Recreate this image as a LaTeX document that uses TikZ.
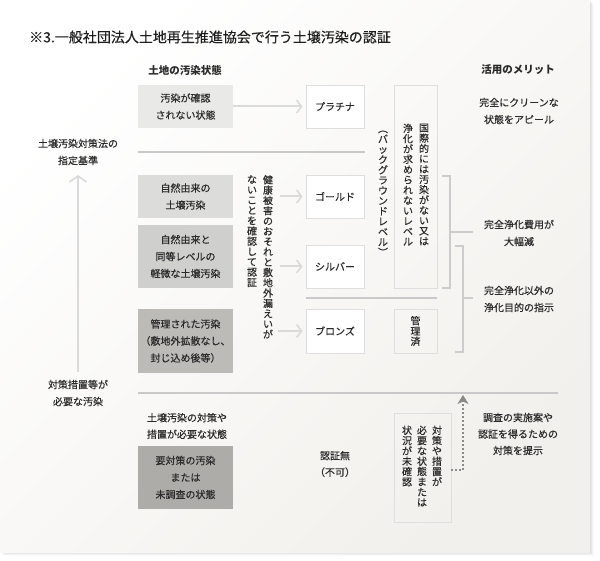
\documentclass[tikz,border=0pt]{standalone}
\usepackage{fontspec}
\setmainfont{Noto Sans CJK JP}[FakeBold=0.35]
\newfontfamily\hfont{Noto Sans CJK JP}
\usepackage{graphicx}
\usetikzlibrary{arrows.meta}
\definecolor{txt}{HTML}{2A2A2A}
\definecolor{ttl}{HTML}{1E1E1E}
\definecolor{bgB}{HTML}{F2F0EC}
\definecolor{sepc}{HTML}{C9C9C9}
\definecolor{arrc}{HTML}{DADADA}
\definecolor{brdc}{HTML}{DEDEDE}
\definecolor{brkc}{HTML}{CCCCCC}
\definecolor{dotc}{HTML}{8A8A8A}
\definecolor{fA}{HTML}{E9E9E8}
\definecolor{fB}{HTML}{DCDCDB}
\definecolor{fC}{HTML}{CFCFCE}
\definecolor{fD}{HTML}{BCBBB8}
\definecolor{fE}{HTML}{AEACA8}
\ExplSyntaxOn
\NewDocumentCommand\vt{m}{
  \vbox{\baselineskip=10.3pt \lineskiplimit=-20pt \lineskip=0pt
  \tl_map_inline:nn {#1} {\hbox to 10pt{\hss ##1\hss}}}
}
\ExplSyntaxOff
\newcommand\vpo{\rotatebox[origin=c]{-90}{（}}
\newcommand\vpc{\rotatebox[origin=c]{-90}{）}}
\begin{document}
\begin{tikzpicture}[x=1pt,y=-1pt,
  every node/.style={text=txt, font=\fontsize{10}{17}\selectfont, inner sep=0pt, align=center},
  gbox/.style={minimum width=95pt},
  wbox/.style={minimum width=58pt, minimum height=43pt, fill=white, draw=brdc, line width=0.8pt},
  vbx/.style={draw=brdc, line width=0.8pt},
  hdr/.style={font=\hfont\fontsize{10.5}{12}\selectfont\bfseries},
  arr/.style={draw=arrc, line width=2pt, -{Straight Barb[length=5pt,width=13pt,line width=1.6pt]}, shorten >=3pt},
  sepl/.style={draw=sepc, line width=2pt},
  brk/.style={draw=brkc, line width=1.3pt},
  dotarr/.style={draw=dotc, line width=1.3pt, dash pattern=on 1.3pt off 2.7pt, -{Stealth[length=9pt,width=11pt,inset=2.5pt]}}
]
\useasboundingbox (0,0) rectangle (600,561);
\fill[white] (0,0) rectangle (600,561);
% shadow and panel
\foreach \o/\op in {4/0.02,3/0.03,2/0.04,1/0.05}{
  \fill[black,opacity=\op] (\o,\o) rectangle (590+\o,552+\o);
}
\shade[top color=white, bottom color=bgB, shading angle=45] (0,0) rectangle (590,552);

% title & headers
\node[anchor=west, text=ttl, font=\fontsize{14}{16}\selectfont] (title) at (29,37) {※3.一般社団法人土地再生推進協会で行う土壌汚染の認証};
\node[hdr] (h1) at (185,70) {土地の汚染状態};
\node[hdr] (h2) at (518,70) {活用のメリット};

% left column boxes
\node[gbox, fill=fA, minimum height=43pt] (b1) at (185.5,106.5) {汚染が確認\\されない状態};
\node[gbox, fill=fB, minimum height=43pt] (b2) at (185.5,196.5) {自然由来の\\土壌汚染};
\node[gbox, fill=fC, minimum height=63pt] (b3) at (185.5,256.5) {自然由来と\\同等レベルの\\軽微な土壌汚染};
\node[gbox, fill=fD, minimum height=64pt] (b4) at (185.5,341) {管理された汚染\\（敷地外拡散なし、\\封じ込め後等）};
\node[gbox, fill=fE, minimum height=63pt] (b5) at (185.5,477.5) {要対策の汚染\\または\\未調査の状態};

% certification boxes
\node[wbox] (plat) at (335,106.5) {プラチナ};
\node[wbox] (gold) at (335,196.5) {ゴールド};
\node[wbox] (silver) at (335,266.5) {シルバー};
\node[wbox, minimum height=44pt] (bronze) at (335,331) {ブロンズ};

% vertical boxes
\node[vbx, minimum width=43pt, minimum height=203pt] (intl) at (415.5,186.5) {};
\node[anchor=north] (intlR) at (424,123.5) {\vt{国際的には汚染がない又は}};
\node[anchor=north] (intlL) at (408,123.5) {\vt{浄化が求められないレベル}};
\node[anchor=north] (bg) at (383,123.5) {\vt{{\vpo}バックグラウンドレベル{\vpc}}};
\node[vbx, minimum width=43pt, minimum height=44pt] (kanri) at (415.5,331) {\vt{管理済}};
\node[vbx, minimum width=57pt, minimum height=109pt] (unconf) at (422.5,467.5) {};
\node[anchor=north] (uR) at (437,425.5) {\vt{対策や措置が}};
\node[anchor=north] (uM) at (422,425.5) {\vt{必要な状態または}};
\node[anchor=north] (uL) at (407,425.5) {\vt{状況が未確認}};

% middle vertical note
\node[anchor=north] (nR) at (268,175) {\vt{健康被害のおそれと敷地外漏えいが}};
\node[anchor=north] (nL) at (252,175) {\vt{ないことを確認して認証}};

% left labels
\node (std) at (78,152) {土壌汚染対策法の\\指定基準};
\node (need) at (78,393) {対策措置等が\\必要な汚染};
\coordinate (la1) at (78,372);
\coordinate (la2) at (78,175);
\draw[draw=arrc, line width=2pt, -{Straight Barb[length=6pt,width=17pt,line width=1.6pt]}] (la1) -- (la2);

% separators
\draw[sepl] (138,152) -- (365,152);
\draw[sepl] (306,298) -- (437,298);
\draw[sepl] (138,393) -- (558,393);

% arrows
\draw[arr] (b1.east) -- (plat.west);
\coordinate (ga) at (280,196.5);
\coordinate (sa) at (280,266.5);
\coordinate (ba) at (278,331);
\draw[arr] (ga) -- (gold.west);
\draw[arr] (sa) -- (silver.west);
\draw[arr] (ba) -- (bronze.west);

% brackets
\draw[brk] (442,176) -- (450,176) -- (450,288) -- (442,288);
\draw[brk] (450,232) -- (473,232);
\draw[brk] (455,246) -- (463,246) -- (463,352) -- (455,352);
\draw[brk] (463,298) -- (473,298);

% merits
\node (m1) at (519,111) {完全にクリーンな\\状態をアピール};
\node (m2) at (519,233) {完全浄化費用が\\大幅減};
\node (m3) at (519,299) {完全浄化以外の\\浄化目的の指示};

% lower section
\node[font=\fontsize{10}{16.5}\selectfont] (lowT) at (187,426) {土壌汚染の対策や\\措置が必要な状態};
\node[font=\fontsize{10}{16.5}\selectfont] (nocert) at (335,464) {認証無\\（不可）};
\node[font=\fontsize{10}{16.5}\selectfont] (plan) at (518,434) {調査の実施案や\\認証を得るための\\対策を提示};
\coordinate (d1) at (463,470);
\coordinate (d2) at (463,395);
\draw[dotarr] (unconf.east |- d1) -- (d1) -- (d2);
\end{tikzpicture}
\end{document}
